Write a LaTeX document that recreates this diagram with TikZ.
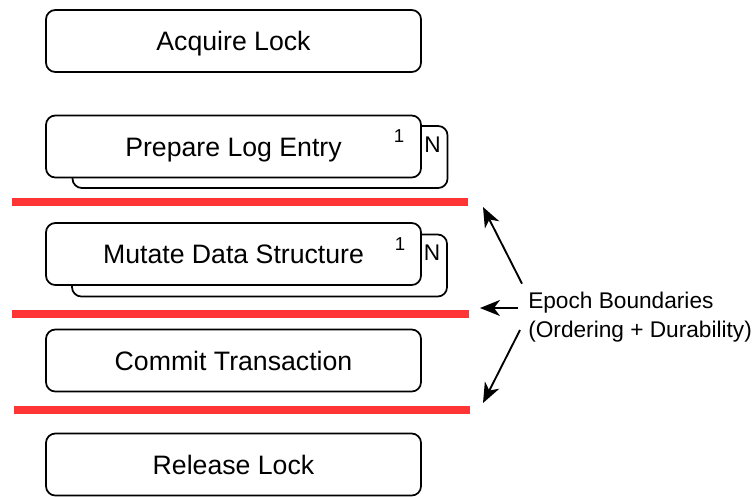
\documentclass[tikz,border=0pt]{standalone}
\usepackage{fontspec}
\setmainfont{Liberation Sans}
\usetikzlibrary{arrows.meta,positioning}
\tikzset{>={Stealth[length=15pt,width=12pt,inset=4.5pt]}}
\definecolor{epochred}{HTML}{FF3535}
\tikzset{stepbox/.style={draw,line width=1.3pt,rounded corners=7pt,fill=white,inner sep=0pt,
    minimum width=281.25pt,minimum height=46.5pt,text height=14.3pt,text depth=0pt,
    font=\fontsize{20}{24}\selectfont}}
\tikzset{tag/.style={inner sep=0pt,font=\fontsize{17}{20}\selectfont}}
\tikzset{boundary/.style={draw=epochred,line width=6pt}}

\begin{document}
\begin{tikzpicture}[x=0.75pt,y=-0.75pt]
        \useasboundingbox (0,0) rectangle (755,496);
        \node[stepbox] (acquire) at (233.5,41) {Acquire Lock};
        \node[stepbox] (prepback) at (260,157) {};
        \node[stepbox] (prep) at (233.5,146.5) {Prepare Log Entry};
        \node[stepbox] (mutback) at (259.5,265.5) {};
        \node[stepbox] (mut) at (233.5,254) {Mutate Data Structure};
        \node[stepbox] (commit) at (233.5,360.5) {Commit Transaction};
        \node[stepbox] (release) at (233.5,464.5) {Release Lock};
        \node[tag,font=\fontsize{14}{16}\selectfont] (prepone) at (399,136) {1};
        \node[tag] (prepn) at (432.5,144.5) {N};
        \node[tag,font=\fontsize{14}{16}\selectfont] (mutone) at (400,244) {1};
        \node[tag] (mutn) at (432,253) {N};
        \coordinate (b1) at (12,201.5);
        \coordinate (b1e) at (468,201.5);
        \coordinate (b2) at (12,314);
        \coordinate (b2e) at (469,314);
        \coordinate (b3) at (14,409.5);
        \coordinate (b3e) at (470,409.5);
      \draw[boundary] (b1)--(b1e);
      \draw[boundary] (b2)--(b2e);
      \draw[boundary] (b3)--(b3e);
      \node[anchor=west,align=left,inner sep=0pt,font=\fontsize{17}{21.75}\selectfont] (epoch) at (528,317)
        {Epoch Boundaries\\(Ordering + Durability)};
        \coordinate (t1) at (483,207);
        \coordinate (t2) at (480,308);
        \coordinate (t3) at (483,403);
      \draw[->,line width=1.4pt] ([shift={(-6,-8)}]epoch.north west)--(t1);
      \draw[->,line width=1.4pt] ([shift={(-10,-9)}]epoch.west)--(t2);
      \draw[->,line width=1.4pt] ([shift={(-8,13)}]epoch.west)--(t3);
    \end{tikzpicture}
\end{document}
